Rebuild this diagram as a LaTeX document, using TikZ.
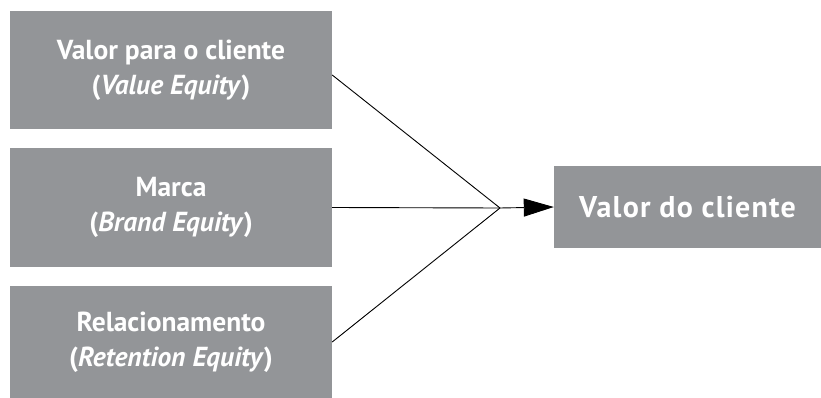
\documentclass[tikz,border=0pt]{standalone}
\usepackage{fontspec}
\setmainfont{PT Sans}
\usetikzlibrary{arrows.meta}
\definecolor{boxgray}{RGB}{147,149,152}
\begin{document}
\begin{tikzpicture}[x=1pt,y=-1pt,
    caixa/.style={fill=boxgray,text=white,align=center,inner sep=0pt,
      font=\fontsize{27.5}{35}\selectfont\bfseries},
    liga/.style={line width=0.9pt}]
  \useasboundingbox (0,0) rectangle (821,398);
  \node[caixa,minimum width=322pt,minimum height=118pt] (valor) at (171,70)
    {Valor para o cliente\\(\textit{Value Equity})};
  \node[caixa,minimum width=322pt,minimum height=119pt] (marca) at (171,207.5)
    {Marca\\(\textit{Brand Equity})};
  \node[caixa,minimum width=322pt,minimum height=112pt] (relac) at (171,342)
    {Relacionamento\\(\textit{Retention Equity})};
  \node[caixa,minimum width=267pt,minimum height=82pt,
    font=\fontsize{30}{35}\selectfont\bfseries\addfontfeature{LetterSpace=4}]
    (cliente) at (687.5,207) {Valor do cliente};
  \coordinate (junta) at (500,208);
  \draw[liga] ([yshift=-5pt]valor.east) -- (junta);
  \draw[liga] (marca.east) -- (junta);
  \draw[liga] (relac.east) -- (junta);
  \draw[liga,-{Triangle[length=30pt,width=18pt]}] (junta) -- (cliente.west);
\end{tikzpicture}
\end{document}
